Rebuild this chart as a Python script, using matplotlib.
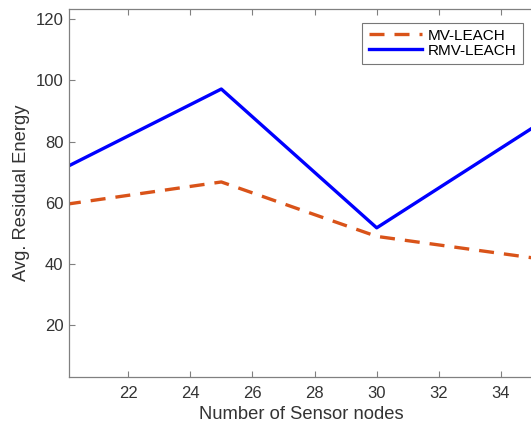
import numpy as np
import matplotlib.pyplot as plt

plt.rcParams['font.family'] = ['Liberation Sans', 'DejaVu Sans']

# data
nodes = [20, 25, 30, 35]
mv_leach = [59.5, 66.8, 49.0, 42.0]
rmv_leach = [71.6, 97.2, 51.8, 84.4]
xticks = [22, 24, 26, 28, 30, 32, 34]
yticks = [20, 40, 60, 80, 100, 120]

fig = plt.figure(figsize=(5.31, 4.25), dpi=100)
ax = fig.add_axes([0.130, 0.1136, 0.875, 0.8654])

ax.plot(nodes, mv_leach, '--', color='#D95319', lw=2.4, dashes=(4.5, 3), label='MV-LEACH')
ax.plot(nodes, rmv_leach, '-', color='#0000FF', lw=2.4, label='RMV-LEACH')

ax.set_xlim(20.1, 35.05)
ax.set_ylim(3.1, 123.4)
ax.set_xticks(xticks)
ax.set_yticks(yticks)

for s in ax.spines.values():
    s.set_color('#808080')
    s.set_linewidth(0.9)
ax.tick_params(direction='in', top=True, right=False, length=4, width=0.8,
               colors='#808080', labelcolor='#333333', labelsize=12)
ax.tick_params(axis='x', pad=7)
ax.tick_params(axis='y', pad=4)

ax.set_xlabel('Number of Sensor nodes', fontsize=13.2, color='#333333', labelpad=3)
ax.set_ylabel('Avg. Residual Energy', fontsize=13.2, color='#333333', labelpad=4)

leg = ax.legend(loc='upper right', bbox_to_anchor=(0.977, 0.9625), fontsize=11,
                frameon=True, fancybox=False, borderpad=0.4, labelspacing=0.05,
                handlelength=3.5, handletextpad=0.4, borderaxespad=0)
leg.get_frame().set_edgecolor('#555555')
leg.get_frame().set_linewidth(0.8)

fig.savefig('out.png', dpi=100)
